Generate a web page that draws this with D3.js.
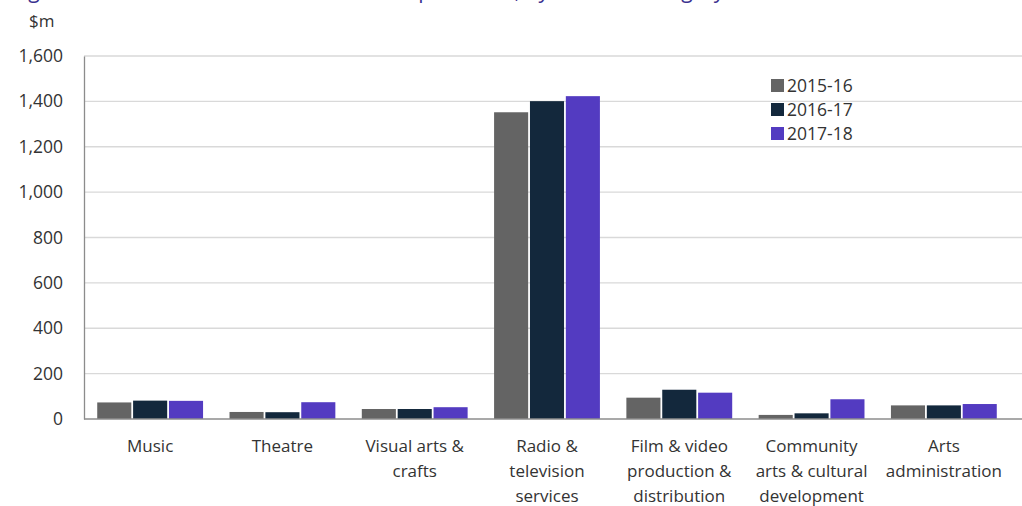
<!DOCTYPE html>
<html>
<head>
  <meta charset="utf-8">
  <title>Arts expenditure by sub-category</title>
  <script src="https://d3js.org/d3.v7.min.js"></script>
  <style>
    body { margin: 0; background: #fff; }
    text { font-family: "Open Sans", "Liberation Sans", sans-serif; fill: #333; }
  </style>
</head>
<body>
  <div id="chart"></div>
  <script>
    // data ($m)
    var categories = [
      ["Music"],
      ["Theatre"],
      ["Visual arts &", "crafts"],
      ["Radio &", "television", "services"],
      ["Film & video", "production &", "distribution"],
      ["Community", "arts & cultural", "development"],
      ["Arts", "administration"]
    ];
    var years = ["2015-16", "2016-17", "2017-18"];
    var v2015 = [73, 31, 44, 1352, 94, 18, 60];
    var v2016 = [81, 30, 44, 1401, 129, 25, 60];
    var v2017 = [80, 74, 52, 1423, 116, 87, 66];
    var colors = ["#646464", "#13283c", "#533bc1"];
    var yTicks = [0, 200, 400, 600, 800, 1000, 1200, 1400, 1600];

    var series = [v2015, v2016, v2017];

    var svg = d3.select("#chart").append("svg")
      .attr("width", 1022)
      .attr("height", 506);

    var margin = {top: 56, left: 84, bottom: 87};
    var width = 926;
    var height = 506 - margin.top - margin.bottom;

    // cropped title, only the descenders show
    svg.append("text")
      .attr("x", 12)
      .attr("y", -2)
      .style("font-size", "21px")
      .style("fill", "#3b3290")
      .text("Figure 3: Total arts and cultural council expenditure, by arts sub-category");

    svg.append("text")
      .attr("x", 29)
      .attr("y", 27)
      .style("font-size", "17px")
      .text("$m");

    var x0 = d3.scaleBand()
      .domain(d3.range(categories.length))
      .range([0, width])
      .paddingInner(0.2)
      .paddingOuter(0.1);

    var x1 = d3.scaleBand()
      .domain(d3.range(years.length))
      .range([0, x0.bandwidth()])
      .paddingInner(0.05);

    var y = d3.scaleLinear()
      .domain([0, 1600])
      .range([height, 0]);

    var g = svg.append("g")
      .attr("transform", "translate(" + margin.left + "," + margin.top + ")");

    // gridlines
    g.selectAll(".grid")
      .data(yTicks.slice(1))
      .enter()
      .append("line")
      .attr("x1", 0)
      .attr("x2", 1022)
      .attr("y1", function(d) { return y(d); })
      .attr("y2", function(d) { return y(d); })
      .style("stroke", "#d9d9d9")
      .style("stroke-width", 1.3);

    // bars
    var groups = g.selectAll(".cat")
      .data(categories)
      .enter()
      .append("g")
      .attr("transform", function(d, i) { return "translate(" + x0(i) + ",0)"; });

    groups.selectAll("rect")
      .data(function(d, i) { return series.map(function(s, k) { return {k: k, v: s[i]}; }); })
      .enter()
      .append("rect")
      .attr("x", function(d) { return x1(d.k); })
      .attr("y", function(d) { return y(d.v); })
      .attr("width", x1.bandwidth())
      .attr("height", function(d) { return height - y(d.v); })
      .style("fill", function(d) { return colors[d.k]; });

    // y axis
    var yAxis = g.append("g")
      .call(d3.axisLeft(y).tickValues(yTicks).tickSize(0).tickPadding(21).tickFormat(d3.format(",")));
    yAxis.select(".domain").style("stroke", "#8c8c8c").style("stroke-width", 1.3);
    yAxis.selectAll("text").style("font-size", "17.5px").style("fill", "#333");

    // x axis line
    g.append("line")
      .attr("x1", 0)
      .attr("x2", 1022)
      .attr("y1", height)
      .attr("y2", height)
      .style("stroke", "#8c8c8c")
      .style("stroke-width", 1.5);

    // category labels
    var labels = g.selectAll(".lbl")
      .data(categories)
      .enter()
      .append("text")
      .attr("text-anchor", "middle")
      .attr("transform", function(d, i) { return "translate(" + (x0(i) + x0.bandwidth() / 2) + "," + (height + 33) + ")"; })
      .style("font-size", "17px");

    labels.selectAll("tspan")
      .data(function(d) { return d; })
      .enter()
      .append("tspan")
      .attr("x", 0)
      .attr("dy", function(d, i) { return i === 0 ? 0 : 25; })
      .text(function(d) { return d; });

    // legend
    var legend = svg.append("g")
      .attr("transform", "translate(771,79)");

    legend.selectAll("rect")
      .data(years)
      .enter()
      .append("rect")
      .attr("x", 0)
      .attr("y", function(d, i) { return i * 24; })
      .attr("width", 13)
      .attr("height", 13)
      .style("fill", function(d, i) { return colors[i]; });

    legend.selectAll("text")
      .data(years)
      .enter()
      .append("text")
      .attr("x", 16)
      .attr("y", function(d, i) { return i * 24 + 13; })
      .style("font-size", "17.5px")
      .text(function(d) { return d; });
  </script>
</body>
</html>
